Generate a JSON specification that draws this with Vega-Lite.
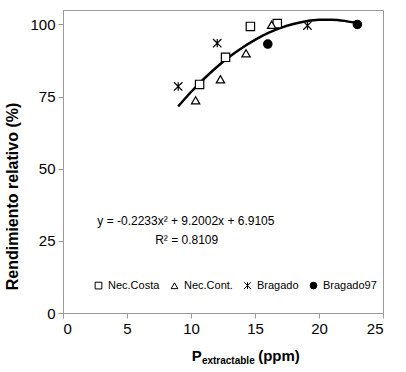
{
  "$schema": "https://vega.github.io/schema/vega-lite/v6.json",
  "width": 320,
  "height": 303,
  "autosize": {"type": "none"},
  "padding": {"left": 63, "top": 10, "right": 23, "bottom": 59},
  "background": "white",
  "config": {
    "font": "Liberation Sans",
    "view": {"stroke": "#999999", "strokeWidth": 1},
    "axis": {"grid": false, "domainColor": "#999999", "tickColor": "#999999", "labelColor": "#000000", "labelFont": "Liberation Sans", "labelFontSize": 15, "tickSize": 5, "labelPadding": 3}
  },
  "datasets": {
    "pts": [
      {"serie": "Nec.Costa", "p": 10.67, "r": 79.2},
      {"serie": "Nec.Costa", "p": 12.7, "r": 88.6},
      {"serie": "Nec.Costa", "p": 14.64, "r": 99.3},
      {"serie": "Nec.Costa", "p": 16.74, "r": 100.3},
      {"serie": "Nec.Cont.", "p": 10.36, "r": 73.7},
      {"serie": "Nec.Cont.", "p": 12.3, "r": 81.0},
      {"serie": "Nec.Cont.", "p": 14.3, "r": 90.0},
      {"serie": "Nec.Cont.", "p": 16.3, "r": 99.9},
      {"serie": "Bragado", "p": 9.0, "r": 78.5},
      {"serie": "Bragado", "p": 12.05, "r": 93.5},
      {"serie": "Bragado", "p": 19.1, "r": 99.6},
      {"serie": "Bragado97", "p": 16.0, "r": 93.2},
      {"serie": "Bragado97", "p": 23.0, "r": 100.0}
    ],
    "curve": [
      {"p": 9, "r": 71.6}, {"p": 10, "r": 76.58}, {"p": 11, "r": 81.09}, {"p": 12, "r": 85.16},
      {"p": 13, "r": 88.77}, {"p": 14, "r": 91.94}, {"p": 15, "r": 94.67}, {"p": 16, "r": 96.95},
      {"p": 17, "r": 98.78}, {"p": 18, "r": 100.16}, {"p": 19, "r": 101.1}, {"p": 20, "r": 101.59},
      {"p": 21, "r": 101.63}, {"p": 22, "r": 101.23}, {"p": 23, "r": 100.38}
    ],
    "one": [{"k": 1}]
  },
  "layer": [
    {
      "data": {"name": "curve"},
      "mark": {"type": "line", "color": "black", "strokeWidth": 2.5, "interpolate": "monotone"},
      "encoding": {
        "x": {"field": "p", "type": "quantitative", "scale": {"domain": [0, 25], "nice": false}, "axis": {"values": [0, 5, 10, 15, 20, 25], "title": null}},
        "y": {"field": "r", "type": "quantitative", "scale": {"domain": [0, 105], "nice": false}, "axis": {"values": [0, 25, 50, 75, 100], "title": "Rendimiento relativo (%)", "titleFont": "Liberation Sans", "titleFontSize": 16, "titleFontWeight": "bold", "titleColor": "#000000", "titlePadding": 9, "titleY": 186}}
      }
    },
    {
      "data": {"name": "pts"},
      "mark": {"type": "point", "strokeWidth": 1.2, "opacity": 1, "size": 70},
      "encoding": {
        "x": {"field": "p", "type": "quantitative"},
        "y": {"field": "r", "type": "quantitative"},
        "shape": {"field": "serie", "type": "nominal", "title": null,
          "scale": {"domain": ["Nec.Costa", "Nec.Cont.", "Bragado", "Bragado97"], "range": ["square", "triangle-up", "M-1,-1L1,1M-1,1L1,-1M0,-1L0,1", "circle"]},
          "legend": {"orient": "none", "legendX": 30, "legendY": 270, "direction": "horizontal", "columns": 4, "labelFontSize": 11, "labelFont": "Liberation Sans", "labelColor": "#000000", "symbolSize": 45, "symbolStrokeWidth": 1, "columnPadding": 9, "labelOffset": 4}},
        "fill": {"field": "serie", "type": "nominal", "title": null,
          "scale": {"domain": ["Nec.Costa", "Nec.Cont.", "Bragado", "Bragado97"], "range": ["white", "white", "transparent", "black"]}},
        "stroke": {"field": "serie", "type": "nominal", "title": null,
          "scale": {"domain": ["Nec.Costa", "Nec.Cont.", "Bragado", "Bragado97"], "range": ["black", "black", "black", "black"]}}
      }
    },
    {
      "data": {"name": "one"},
      "mark": {"type": "text", "font": "Liberation Sans", "fontSize": 12, "color": "black", "align": "center", "baseline": "middle"},
      "encoding": {"x": {"datum": 9.6}, "y": {"datum": 32.0}, "text": {"value": "y = -0.2233x² + 9.2002x + 6.9105"}}
    },
    {
      "data": {"name": "one"},
      "mark": {"type": "text", "font": "Liberation Sans", "fontSize": 12, "color": "black", "align": "center", "baseline": "middle"},
      "encoding": {"x": {"datum": 9.66}, "y": {"datum": 25.3}, "text": {"value": "R² = 0.8109"}}
    },
    {
      "data": {"name": "one"},
      "mark": {"type": "text", "font": "Liberation Sans", "fontSize": 15, "fontWeight": "bold", "color": "black", "align": "left", "baseline": "alphabetic", "clip": false},
      "encoding": {"x": {"datum": 10.05}, "y": {"datum": -16.5}, "text": {"value": "P"}}
    },
    {
      "data": {"name": "one"},
      "mark": {"type": "text", "font": "Liberation Sans", "fontSize": 10, "fontWeight": "bold", "color": "black", "align": "left", "baseline": "alphabetic", "clip": false},
      "encoding": {"x": {"datum": 10.85}, "y": {"datum": -17.8}, "text": {"value": "extractable"}}
    },
    {
      "data": {"name": "one"},
      "mark": {"type": "text", "font": "Liberation Sans", "fontSize": 15, "fontWeight": "bold", "color": "black", "align": "left", "baseline": "alphabetic", "clip": false},
      "encoding": {"x": {"datum": 15.25}, "y": {"datum": -16.5}, "text": {"value": "(ppm)"}}
    }
  ]
}
